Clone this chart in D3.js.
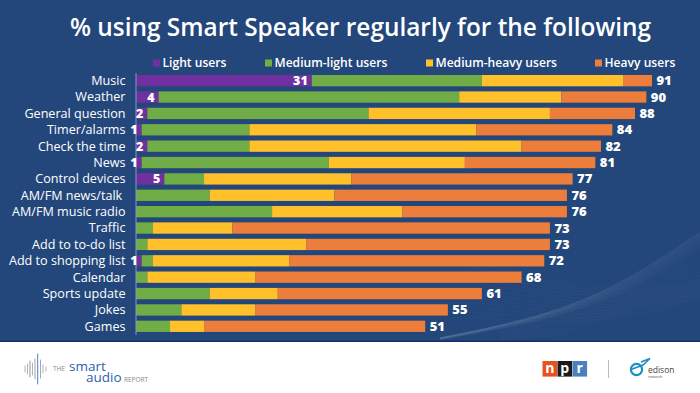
<!DOCTYPE html>
<html><head><meta charset="utf-8">
<script src="https://cdn.jsdelivr.net/npm/d3@7/dist/d3.min.js"></script>
<style>html,body{margin:0;padding:0;background:#fff}svg{display:block}</style>
</head><body><svg id="c" width="700" height="393"></svg>
<script>
const categories=["Music","Weather","General question","Timer/alarms","Check the time","News","Control devices","AM/FM news/talk ","AM/FM music radio","Traffic","Add to to-do list","Add to shopping list","Calendar","Sports update","Jokes","Games"];
const seriesNames=["Light users","Medium-light users","Medium-heavy users","Heavy users"];
const light=[31,4,2,1,2,1,5,0,0,0,0,1,0,0,0,0];
const mediumLight=[30,53,39,19,18,33,7,13,24,3,2,2,2,13,8,6];
const mediumHeavy=[25,18,32,40,48,24,26,22,23,14,28,24,19,12,13,6];
const heavy=[5,15,15,24,14,23,39,41,29,56,43,45,47,36,34,39];
const totals=[91,90,88,84,82,81,77,76,76,73,73,72,68,61,55,51];
const colors=["#7030a0","#70ad47","#ffc02a","#ed7d3b"];
const FONT="'Open Sans','Lato',sans-serif";
const rows=categories.map((c,i)=>({cat:c,"Light users":light[i],"Medium-light users":mediumLight[i],"Medium-heavy users":mediumHeavy[i],"Heavy users":heavy[i],total:totals[i]}));
const svg=d3.select("#c").style("font-family",FONT);
svg.append("rect").attr("width",700).attr("height",342).attr("fill","#24477b");
// decorative waves in the lower right of the background
const wave=d3.line().curve(d3.curveBasis);
const g0=svg.append("g").attr("fill","none").attr("stroke","#fff");
d3.range(12).forEach(k=>{
  g0.append("path").attr("stroke-opacity",.025+.006*k).attr("stroke-width",.8)
   .attr("d",wave([[440,340-k*.2],[540,322-k*.4],[620,298-k*1.1],[700,250-k*1.6]]));
  g0.append("path").attr("stroke-opacity",.03).attr("stroke-width",.7)
   .attr("d",wave([[470,262+k*5],[560,284+k*3.6],[640,292+k*2.2],[700,280+k*1.6]]));
  g0.append("path").attr("stroke-opacity",.03).attr("stroke-width",.7)
   .attr("d",wave([[500,340-k],[580,335-k*3],[640,300-k*2],[700,300-k*4]]));
});
svg.append("rect").attr("y",340.5).attr("width",700).attr("height",1.5).attr("fill","#14306a");
svg.append("text").attr("x",360.5).attr("y",36).attr("text-anchor","middle").attr("fill","#fff").attr("font-weight",600).attr("font-size",24.4).text("% using Smart Speaker regularly for the following");
const x=d3.scaleLinear().domain([0,91]).range([136,652]);
const y=d3.scaleBand().domain(categories).range([72.46,334.5]).paddingInner(.31).paddingOuter(.155);
const stack=d3.stack().keys(seriesNames)(rows);
const color=d3.scaleOrdinal(seriesNames,colors);
// legend
const legX=[153,265,426,595];
const leg=svg.append("g").selectAll("g").data(seriesNames).join("g").attr("transform",(d,i)=>`translate(${legX[i]},63)`);
leg.append("rect").attr("y",-3.5).attr("width",7).attr("height",7).attr("fill",d=>color(d));
leg.append("text").attr("x",9.5).attr("y",4).attr("fill","#fff").attr("font-size",12.1).attr("font-weight",600).text(d=>d);
// bars
svg.append("g").selectAll("g").data(stack).join("g").attr("fill",d=>color(d.key))
 .selectAll("rect").data(d=>d.map(v=>({v,cat:v.data.cat}))).join("rect")
 .attr("x",d=>x(d.v[0])).attr("y",d=>y(d.cat)).attr("width",d=>x(d.v[1])-x(d.v[0])).attr("height",y.bandwidth());
// axis
const ax=svg.append("g").attr("transform","translate(135.5,0)").call(d3.axisLeft(y).tickSize(0).tickPadding(10));
ax.select(".domain").attr("stroke","#7f9bc4").attr("stroke-width",1);
ax.selectAll("text").attr("fill","#fff").attr("font-size",12.6).attr("font-family",FONT).style("white-space","pre").attr("dy",null).attr("y",4.4);
// light labels
svg.append("g").selectAll("text").data(rows.filter(r=>r["Light users"]>0)).join("text")
 .attr("x",d=>x(d["Light users"])-4).attr("y",d=>y(d.cat)+y.bandwidth()/2+4.5).attr("text-anchor","end")
 .attr("fill","#fff").attr("font-weight",800).attr("font-size",12.5).text(d=>d["Light users"]);
// totals
svg.append("g").selectAll("text").data(rows).join("text")
 .attr("x",d=>x(d.total)+4.5).attr("y",d=>y(d.cat)+y.bandwidth()/2+4.5)
 .attr("fill","#fff").attr("font-weight",800).attr("font-size",13).text(d=>d.total);
// footer logos
const wf=svg.append("g").attr("stroke-linecap","round");
[[25,3,"#aaa"],[27.5,5,"#aaa"],[30,8,"#888"],[32.5,6,"#aaa"],[35,10,"#999"],[37.7,15,"#3f72b5"],[40.5,9,"#7ea4d4"],[43,4,"#aaa"],[46,2,"#aaa"]].forEach(d=>{
  wf.append("line").attr("x1",d[0]).attr("x2",d[0]).attr("y1",369-d[1]).attr("y2",369+d[1]).attr("stroke",d[2]).attr("stroke-width",.9);
});
const ft=svg.append("g");
ft.append("text").attr("x",53).attr("y",371).attr("font-size",6.5).attr("fill","#8a8a8a").text("THE");
ft.append("text").attr("x",69).attr("y",371).attr("font-size",13.5).attr("fill","#2f5fa8").text("smart");
ft.append("text").attr("x",86).attr("y",381.7).attr("font-size",13.5).attr("fill","#2f5fa8").text("audio");
ft.append("text").attr("x",124).attr("y",381.7).attr("font-size",6.5).attr("fill","#8a8a8a").text("REPORT");
[["n","#e8511f",542.5],["p","#1a1a1a",557.5],["r","#4a80c0",572.5]].forEach(d=>{
  ft.append("rect").attr("x",d[2]).attr("y",361).attr("width",14.6).attr("height",15.6).attr("fill",d[1]);
  ft.append("text").attr("x",d[2]+7.3).attr("y",373).attr("text-anchor","middle").attr("fill","#fff").attr("font-size",14).attr("font-weight",700).text(d[0]);
});
ft.append("line").attr("x1",608.5).attr("x2",608.5).attr("y1",360).attr("y2",378).attr("stroke","#bbb");
ft.append("circle").attr("cx",636.5).attr("cy",369.5).attr("r",5.6).attr("fill","none").attr("stroke","#1b8fc4").attr("stroke-width",2.2);
ft.append("path").attr("d","M631 369.5 L643 365 L650 358.5 L641 362").attr("fill","none").attr("stroke","#1b8fc4").attr("stroke-width",1.6);
ft.append("text").attr("x",648).attr("y",372.5).attr("font-size",8.5).attr("fill","#444").text("edison");
ft.append("text").attr("x",648).attr("y",377.5).attr("font-size",3.5).attr("fill","#444").text("research");
</script></body></html>
